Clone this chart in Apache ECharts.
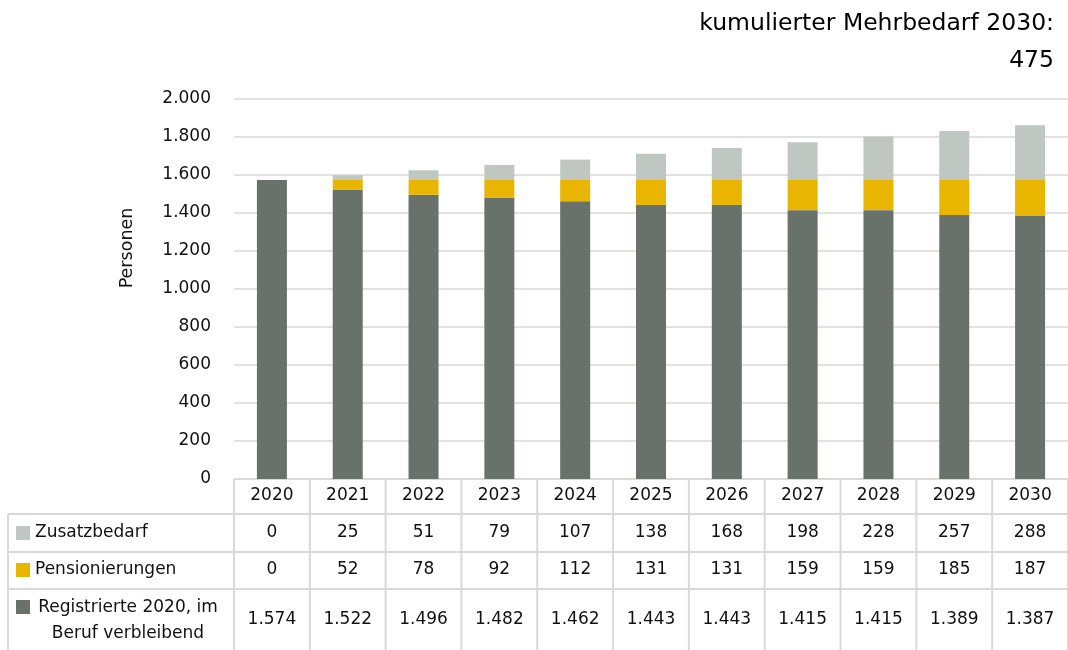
<!DOCTYPE html>
<html>
<head>
<meta charset="utf-8">
<script src="https://cdn.jsdelivr.net/npm/echarts@6/dist/echarts.min.js"></script>
<style>
  html, body { margin: 0; padding: 0; background: #fff; }
  #chart { width: 1068px; height: 650px; }
</style>
</head>
<body>
<div id="chart"></div>
<script>
// Daten
const years = ['2020','2021','2022','2023','2024','2025','2026','2027','2028','2029','2030']
const zusatzbedarf = [0, 25, 51, 79, 107, 138, 168, 198, 228, 257, 288]
const pensionierungen = [0, 52, 78, 92, 112, 131, 131, 159, 159, 185, 187]
const registrierte = [1574, 1522, 1496, 1482, 1462, 1443, 1443, 1415, 1415, 1389, 1387]
const seriesNames = ['Zusatzbedarf', 'Pensionierungen', 'Registrierte 2020, im\nBeruf verbleibend']
const titleLines = ['kumulierter Mehrbedarf 2030:', '475']

const colors = {
  dunkel: '#68726a',
  gelb: '#e8b500',
  hell: '#c0c7c2',
  linie: '#d9d9d9'
}
const font = 'DejaVu Sans'

// Zahlen mit Tausenderpunkt
const fmt = v => String(v).replace(/\B(?=(\d{3})+(?!\d))/g, '.')

const chart = echarts.init(document.getElementById('chart'))

chart.setOption({
  animation: false,
  textStyle: { fontFamily: font },
  grid: { left: 234, top: 99, width: 838, bottom: 171 },
  xAxis: {
    type: 'category',
    data: years,
    axisLine: { show: false },
    axisTick: { show: false },
    axisLabel: { show: false }
  },
  yAxis: {
    type: 'value',
    min: 0,
    max: 2000,
    interval: 200,
    axisLine: { show: false },
    axisTick: { show: false },
    axisLabel: { color: '#111', fontSize: 17, margin: 23, formatter: fmt },
    splitLine: { lineStyle: { color: colors.linie, width: 1.5 } }
  },
  series: [
    { name: seriesNames[2], type: 'bar', stack: 'a', barWidth: 30, data: registrierte, itemStyle: { color: colors.dunkel } },
    { name: seriesNames[1], type: 'bar', stack: 'a', data: pensionierungen, itemStyle: { color: colors.gelb } },
    { name: seriesNames[0], type: 'bar', stack: 'a', data: zusatzbedarf, itemStyle: { color: colors.hell } }
  ]
})

// Datentabelle unter dem Diagramm
const tableTop = 479
const rowLines = [514, 552, 589, 650]
const rowCenters = [533, 570, 620]
const headerCenter = 496
const leftEdge = 8
const rows = [
  { data: zusatzbedarf, color: colors.hell },
  { data: pensionierungen, color: colors.gelb },
  { data: registrierte, color: colors.dunkel }
]

const centers = years.map((y, i) => chart.convertToPixel({ xAxisIndex: 0 }, i))
const step = centers[1] - centers[0]
const tableLeft = centers[0] - step / 2
const tableRight = centers[centers.length - 1] + step / 2

const g = []
const line = (x1, y1, x2, y2) => g.push({
  type: 'line', silent: true,
  shape: { x1, y1, x2, y2 },
  style: { stroke: colors.linie, lineWidth: 2 }
})
const text = (x, y, t, opt) => g.push({
  type: 'text', silent: true, x, y,
  style: Object.assign({ text: t, fill: '#111', font: '17px ' + font, align: 'center', verticalAlign: 'middle' }, opt || {})
})

// Linien
line(tableLeft, tableTop, tableRight, tableTop)
rowLines.slice(0, 3).forEach(y => line(leftEdge, y, tableRight, y))
line(leftEdge, rowLines[0], leftEdge, 650)
for (let i = 0; i <= years.length; i++) {
  const x = tableLeft + i * step
  line(x, tableTop, x, 650)
}

// Kopfzeile
years.forEach((y, i) => text(centers[i], headerCenter, y))

// Zeilen
rows.forEach((r, ri) => {
  r.data.forEach((v, i) => text(centers[i], rowCenters[ri], fmt(v)))
  const sy = ri === 2 ? 607 : rowCenters[ri]
  g.push({ type: 'rect', silent: true, shape: { x: 16, y: sy - 7, width: 14, height: 14 }, style: { fill: r.color } })
})
text(35, rowCenters[0], seriesNames[0], { align: 'left' })
text(35, rowCenters[1], seriesNames[1], { align: 'left' })
text(128, 621, seriesNames[2], { align: 'center', lineHeight: 26 })

// Achsentitel
g.push({
  type: 'text', silent: true, x: 127, y: 248, rotation: Math.PI / 2,
  style: { text: 'Personen', fill: '#111', font: '17.5px ' + font, align: 'center', verticalAlign: 'middle' }
})

// Titel oben rechts
text(1054, 24, titleLines[0], { align: 'right', font: '23.5px ' + font, fill: '#000' })
text(1054, 61, titleLines[1], { align: 'right', font: '23.5px ' + font, fill: '#000' })

chart.setOption({ graphic: g })
</script>
</body>
</html>
